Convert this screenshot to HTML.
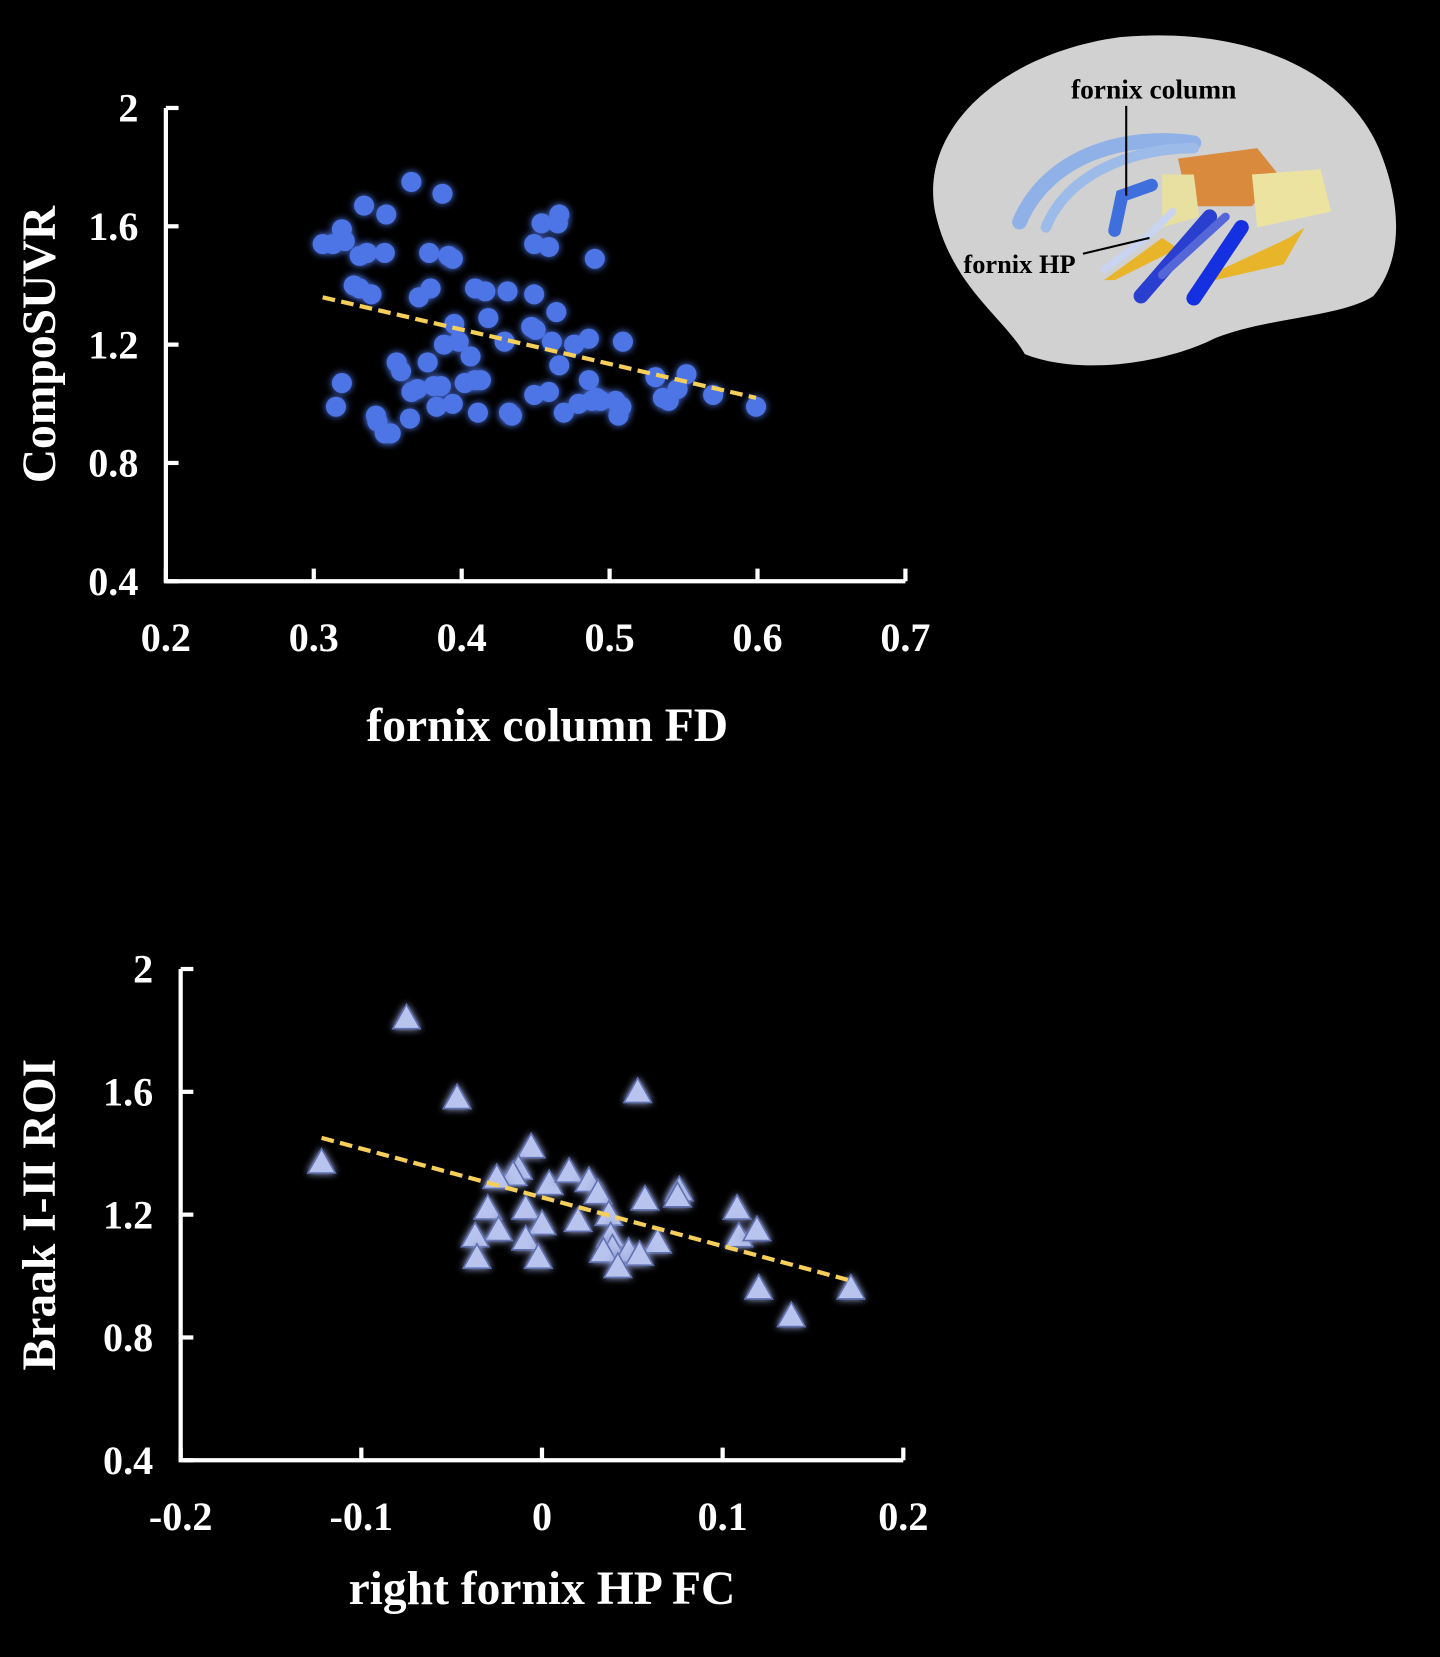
<!DOCTYPE html>
<html><head><meta charset="utf-8"><style>
html,body{margin:0;padding:0;background:#000;}
svg{display:block;}
text{font-family:"Liberation Serif",serif;font-weight:bold;fill:#fff;}
</style></head><body>
<svg id="fig" width="1440" height="1657" viewBox="0 0 1363 1568" xmlns="http://www.w3.org/2000/svg">
<defs>
<filter id="glow" x="-1" y="-1" width="3" height="3"><feGaussianBlur in="SourceGraphic" stdDeviation="3.5" result="b"/><feMerge><feMergeNode in="b"/><feMergeNode in="SourceGraphic"/></feMerge></filter>
</defs>
<rect width="1363" height="1568" fill="#000"/>
<g id="brain">
<path d="M885 200 C870 120 950 50 1060 35 C1170 25 1270 60 1305 140 C1330 200 1325 250 1300 280 C1270 300 1200 300 1150 320 C1100 345 1020 355 970 335 C950 300 900 270 885 200 Z" fill="#dcdcdc" opacity="0.95"/>
<path d="M965 210 C990 150 1060 125 1130 135" stroke="#8fb1e8" stroke-width="14" fill="none" stroke-linecap="round"/>
<path d="M990 215 C1010 165 1070 140 1130 140" stroke="#9dbbe9" stroke-width="10" fill="none" stroke-linecap="round"/>
<path d="M1055 218 L1062 185 L1090 175" stroke="#3f6fdc" stroke-width="12" fill="none" stroke-linecap="round"/>
<path d="M1115 150 L1190 140 L1210 165 L1185 195 L1125 195 Z" fill="#d98a3c"/>
<path d="M1185 165 L1250 160 L1260 200 L1190 215 Z" fill="#ece3a0"/>
<path d="M1100 165 L1130 165 L1135 205 L1100 215 Z" fill="#e8e0a0"/>
<path d="M1145 260 L1220 225 L1235 215 L1215 250 L1150 265 Z" fill="#e8b52a"/>
<path d="M1045 265 L1100 225 L1115 235 L1055 265 Z" fill="#e8b52a"/>
<path d="M1080 280 L1145 205" stroke="#2a3fd0" stroke-width="14" stroke-linecap="round"/>
<path d="M1130 282 L1175 215" stroke="#1530e0" stroke-width="14" stroke-linecap="round"/>
<path d="M1100 260 L1160 205" stroke="#5566d8" stroke-width="8" stroke-linecap="round"/>
<path d="M1045 255 L1085 225 L1110 200" stroke="#c8d4f0" stroke-width="7" fill="none" stroke-linecap="round"/>
<line x1="1066" y1="100" x2="1066" y2="185" stroke="#000" stroke-width="2"/>
<line x1="1025" y1="240" x2="1088" y2="225" stroke="#000" stroke-width="2"/>
<text x="1092" y="93" font-size="26" text-anchor="middle" style="fill:#000">fornix column</text>
<text x="965" y="258" font-size="25" text-anchor="middle" style="fill:#000">fornix HP</text>
</g>
<g id="c1"></g>
<g id="c2"></g>
</svg>
<script>
// Chart 1 data
const c1XTicks = [0.2,0.3,0.4,0.5,0.6,0.7];
const c1YTicks = [0.4,0.8,1.2,1.6,2];
const c1YTickLabels = ["0.4","0.8","1.2","1.6","2"];
const c1X = [0.306,0.313,0.319,0.321,0.334,0.349,0.331,0.336,0.348,0.327,0.331,0.339,0.366,0.387,0.378,0.391,0.394,0.371,0.379,0.395,0.388,0.398,0.406,0.418,0.409,0.416,0.431,0.449,0.464,0.454,0.466,0.465,0.449,0.459,0.490,0.447,0.450,0.461,0.476,0.486,0.509,0.356,0.359,0.377,0.370,0.366,0.381,0.386,0.383,0.394,0.409,0.413,0.319,0.315,0.342,0.343,0.348,0.352,0.365,0.411,0.432,0.434,0.449,0.459,0.469,0.486,0.491,0.488,0.494,0.508,0.504,0.506,0.531,0.536,0.540,0.552,0.546,0.570,0.599,0.479,0.466,0.429,0.402];
const c1Y = [1.54,1.54,1.59,1.55,1.67,1.64,1.50,1.51,1.51,1.40,1.39,1.37,1.75,1.71,1.51,1.50,1.49,1.36,1.39,1.27,1.20,1.21,1.16,1.29,1.39,1.38,1.38,1.37,1.31,1.61,1.64,1.61,1.54,1.53,1.49,1.26,1.25,1.21,1.20,1.22,1.21,1.14,1.11,1.14,1.05,1.04,1.06,1.06,0.99,1.00,1.08,1.08,1.07,0.99,0.96,0.94,0.90,0.90,0.95,0.97,0.97,0.96,1.03,1.04,0.97,1.08,1.02,1.01,1.01,0.99,1.01,0.96,1.09,1.02,1.01,1.10,1.05,1.03,0.99,1.00,1.13,1.21,1.07];
const c1Fit = [[0.306,1.36],[0.599,1.02]];
// Chart 2 data
const c2XTicks = [-0.2,-0.1,0,0.1,0.2];
const c2XTickLabels = ["-0.2","-0.1","0","0.1","0.2"];
const c2YTicks = [0.4,0.8,1.2,1.6,2];
const c2YTickLabels = ["0.4","0.8","1.2","1.6","2"];
const c2X = [-0.122,-0.075,-0.047,0.053,-0.006,-0.013,-0.016,-0.025,0.004,0.015,0.026,0.031,-0.030,-0.009,0.000,0.020,0.037,0.057,0.076,0.075,0.108,-0.024,-0.037,-0.009,0.038,0.039,0.034,0.048,0.064,0.054,0.042,-0.036,-0.002,0.109,0.119,0.120,0.138,0.171];
const c2Y = [1.37,1.84,1.58,1.60,1.42,1.35,1.33,1.32,1.30,1.34,1.31,1.27,1.22,1.22,1.17,1.18,1.20,1.25,1.28,1.26,1.22,1.15,1.13,1.12,1.13,1.09,1.08,1.08,1.11,1.07,1.03,1.06,1.06,1.13,1.15,0.96,0.87,0.96];
const c2Fit = [[-0.122,1.45],[0.171,0.985]];

const NS="http://www.w3.org/2000/svg";
function mk(p,tag,a){const e=document.createElementNS(NS,tag);for(const k in a)e.setAttribute(k,a[k]);p.appendChild(e);return e;}

function chart(g,o){
  const sx=v=>o.x0+(v-o.xmin)/(o.xmax-o.xmin)*(o.x1-o.x0);
  const sy=v=>o.y0-(v-o.ymin)/(o.ymax-o.ymin)*(o.y0-o.y1);
  const ax=mk(g,'path',{d:`M${o.x0} ${o.y1} V${o.y0} H${o.x1}`,stroke:'#fff','stroke-width':4,fill:'none'});
  
  
  o.xt.forEach((v,i)=>{
    const x=sx(v);
    const t=mk(g,'line',{x1:x,x2:x,y1:o.y0,y2:o.y0-12,stroke:'#fff','stroke-width':4});
    
    
    const l=mk(g,'text',{x:x,y:o.y0+66,'font-size':38,'text-anchor':'middle'});
    l.textContent=o.xl[i];
    
    
  });
  o.yt.forEach((v,i)=>{
    const y=sy(v);
    const t=mk(g,'line',{x1:o.x0,x2:o.x0+12,y1:y,y2:y,stroke:'#fff','stroke-width':4});
    
    
    const l=mk(g,'text',{x:o.x0-26,y:y+13,'font-size':38,'text-anchor':'end'});
    l.textContent=o.yl[i];
    
    
  });
  const xt=mk(g,'text',{x:o.xtX,y:o.y0+o.xtOff,'font-size':45,'text-anchor':'middle'});
  xt.textContent=o.xtitle;
  
  
  const cy=(o.y0+o.y1)/2;
  const yt=mk(g,'text',{x:0,y:0,'font-size':45,'text-anchor':'middle',transform:`translate(52 ${cy}) rotate(-90)`});
  yt.textContent=o.ytitle;
  
  
  o.xs.forEach((v,i)=>{
    const x=sx(v),y=sy(o.ys[i]);
    let m;
    if(o.tri){
      m=mk(g,'path',{d:`M${x} ${y-13} L${x+13} ${y+10} L${x-13} ${y+10} Z`,fill:'#b8c3ee',stroke:'#6070b0','stroke-width':1.5,filter:'url(#glow)'});
    } else {
      m=mk(g,'circle',{cx:x,cy:y,r:9.5,fill:'#4d74e6',filter:'url(#glow)'});
    }
    
    
  });
  const f=mk(g,'line',{x1:sx(o.fit[0][0]),y1:sy(o.fit[0][1]),x2:sx(o.fit[1][0]),y2:sy(o.fit[1][1]),stroke:'#f5cf5a','stroke-width':4,'stroke-dasharray':'12 6'});
  
  
}
const g1=document.getElementById('c1');


chart(g1,{x0:157,x1:857,y0:550,y1:102,xmin:0.2,xmax:0.7,ymin:0.4,ymax:2,
  xt:c1XTicks,xl:c1XTicks.map(v=>v.toFixed(1)),yt:c1YTicks,yl:c1YTickLabels,xtOff:151,xtX:518,
  xtitle:'fornix column FD',ytitle:'CompoSUVR',xs:c1X,ys:c1Y,fit:c1Fit,tri:false});
const g2=document.getElementById('c2');


chart(g2,{x0:171,x1:855,y0:1382,y1:917,xmin:-0.2,xmax:0.2,ymin:0.4,ymax:2,
  xt:c2XTicks,xl:c2XTickLabels,yt:c2YTicks,yl:c2YTickLabels,xtOff:136,xtX:513,
  xtitle:'right fornix HP FC',ytitle:'Braak I-II ROI',xs:c2X,ys:c2Y,fit:c2Fit,tri:true});
</script>
</body></html>
